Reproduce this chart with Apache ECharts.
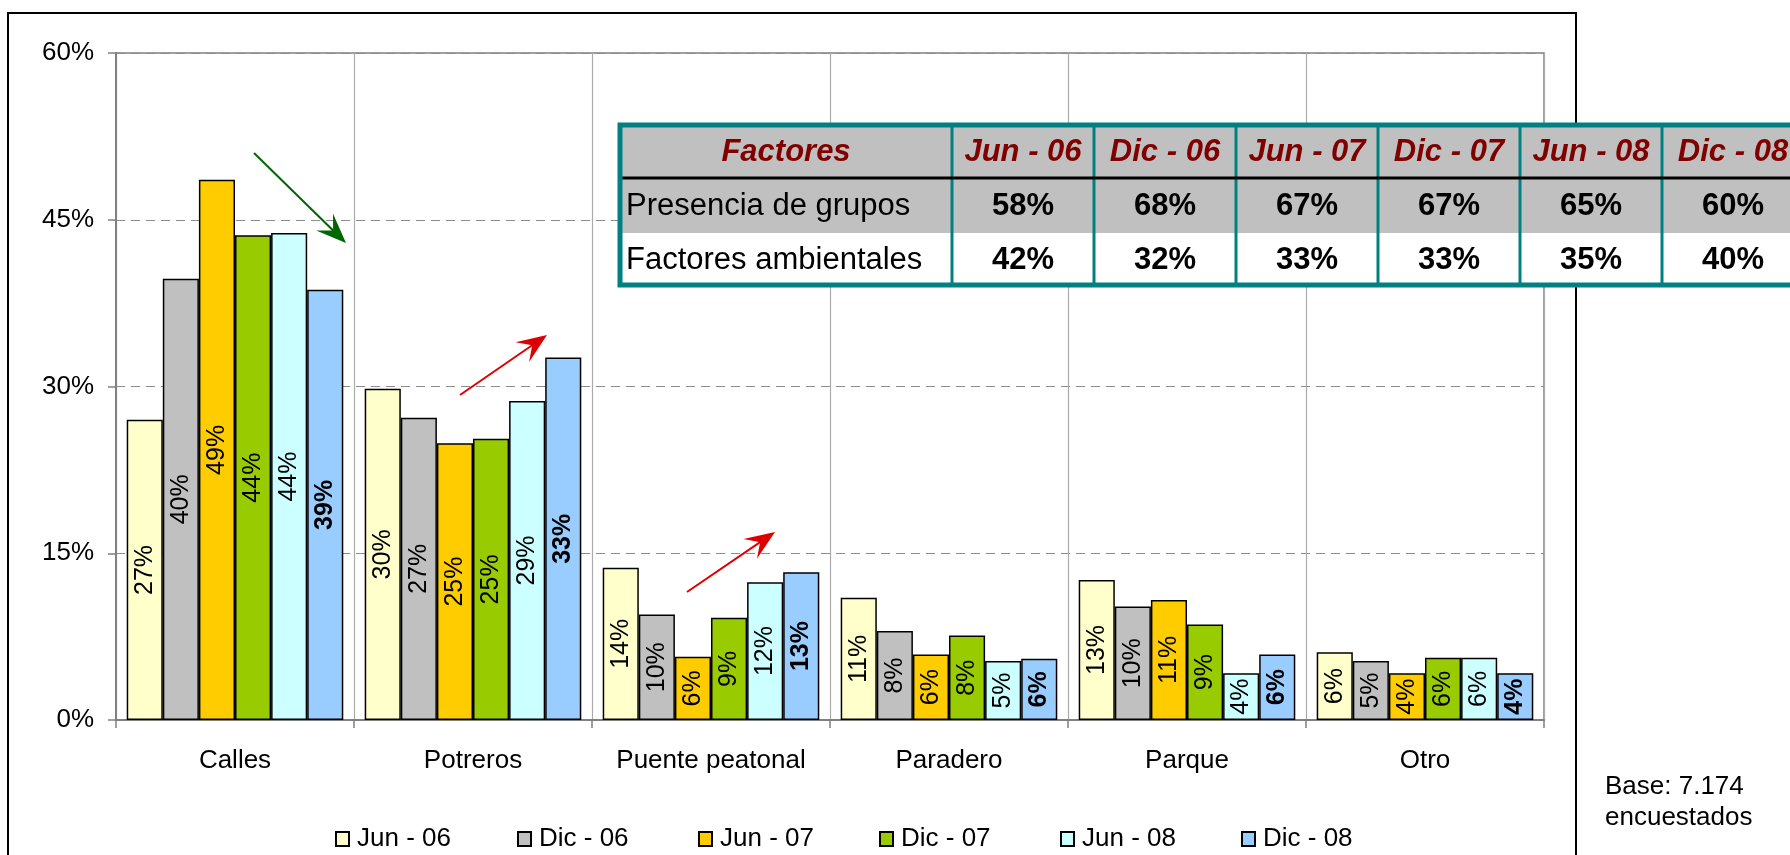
<!DOCTYPE html>
<html>
<head>
<meta charset="utf-8">
<script src="https://cdn.jsdelivr.net/npm/echarts@6/dist/echarts.min.js"></script>
<style>
  html, body { margin: 0; padding: 0; background: #ffffff; }
  #chart { width: 1790px; height: 855px; }
</style>
</head>
<body>
<div id="chart"></div>
<script>
// ---- data ----
const categories = ['Calles', 'Potreros', 'Puente peatonal', 'Paradero', 'Parque', 'Otro'];
const periods = ['Jun - 06', 'Dic - 06', 'Jun - 07', 'Dic - 07', 'Jun - 08', 'Dic - 08'];

const jun06 = [27.0, 29.8, 13.7, 11.0, 12.6, 6.1];
const dic06 = [39.7, 27.2, 9.5, 8.0, 10.2, 5.3];
const jun07 = [48.6, 24.9, 5.7, 5.9, 10.8, 4.2];
const dic07 = [43.6, 25.3, 9.2, 7.6, 8.6, 5.6];
const jun08 = [43.8, 28.7, 12.4, 5.3, 4.2, 5.6];
const dic08 = [38.7, 32.6, 13.3, 5.5, 5.9, 4.2];

const yTicks = { min: 0, max: 60, interval: 15 };

const tableHeader = 'Factores';
const tableRowNames = ['Presencia de grupos', 'Factores ambientales'];
const presenciaGrupos = [58, 68, 67, 67, 65, 60];
const factoresAmbientales = [42, 32, 33, 33, 35, 40];

const baseNote = ['Base: 7.174', 'encuestados'];

// ---- styling ----
const FONT = '"Liberation Sans", Arial, sans-serif';
const seriesColors = ['#FFFFCC', '#C0C0C0', '#FFCC00', '#99CC00', '#CCFFFF', '#99CCFF'];
const seriesValues = [jun06, dic06, jun07, dic07, jun08, dic08];
const legendLeft = [330, 512, 693, 874, 1055, 1236];

const chart = echarts.init(document.getElementById('chart'), null, { renderer: 'canvas' });

const series = periods.map((name, i) => ({
  name: name,
  type: 'bar',
  data: seriesValues[i],
  barGap: '0%',
  barCategoryGap: '9%',
  itemStyle: { color: seriesColors[i], borderColor: '#000000', borderWidth: 1.5 },
  label: {
    show: true,
    position: 'inside',
    rotate: 90,
    fontFamily: FONT,
    fontSize: 25,
    color: '#000000',
    fontWeight: i === periods.length - 1 ? 'bold' : 'normal',
    formatter: p => Math.round(p.value) + '%'
  },
  emphasis: { disabled: true }
}));

// stealth-style arrow annotation
function arrow(x1, y1, x2, y2, color) {
  const dx = x2 - x1, dy = y2 - y1;
  const len = Math.sqrt(dx * dx + dy * dy);
  const ux = dx / len, uy = dy / len;
  const nx = -uy, ny = ux;
  const L = 30, W = 12;
  const back = [x2 - L * ux, y2 - L * uy];
  const notch = [x2 - 0.6 * L * ux, y2 - 0.6 * L * uy];
  return [
    { type: 'line', z: 50, shape: { x1: x1, y1: y1, x2: notch[0], y2: notch[1] },
      style: { stroke: color, lineWidth: 2 } },
    { type: 'polygon', z: 50, shape: { points: [
        [x2, y2],
        [back[0] + W * nx, back[1] + W * ny],
        notch,
        [back[0] - W * nx, back[1] - W * ny]
      ] }, style: { fill: color } }
  ];
}

// summary table drawn on top of the plot
function buildTable() {
  const els = [];
  const x0 = 620, firstW = 332, colW = 142;
  const yTop = 125, hHead = 53, hRow = 55;
  const totalW = firstW + colW * periods.length;
  const yRow1 = yTop + hHead, yRow2 = yRow1 + hRow, yBot = yRow2 + 52;
  const Z = 60;
  els.push({ type: 'rect', z: Z, shape: { x: x0, y: yTop, width: totalW, height: hHead + hRow }, style: { fill: '#C0C0C0' } });
  els.push({ type: 'rect', z: Z, shape: { x: x0, y: yRow2, width: totalW, height: yBot - yRow2 }, style: { fill: '#FFFFFF' } });
  // column dividers
  for (let i = 0; i < periods.length; i++) {
    const x = x0 + firstW + colW * i;
    els.push({ type: 'line', z: Z + 1, shape: { x1: x, y1: yTop, x2: x, y2: yBot }, style: { stroke: '#008080', lineWidth: 3 } });
  }
  // header underline
  els.push({ type: 'line', z: Z + 2, shape: { x1: x0, y1: yRow1, x2: x0 + totalW, y2: yRow1 }, style: { stroke: '#000000', lineWidth: 3 } });
  // outer frame
  els.push({ type: 'rect', z: Z + 3, shape: { x: x0, y: yTop, width: totalW, height: yBot - yTop }, style: { fill: null, stroke: '#008080', lineWidth: 5 } });

  const headStyle = { fontFamily: FONT, fontSize: 31, fontWeight: 'bold', fontStyle: 'italic', fill: '#800000', align: 'center', verticalAlign: 'middle' };
  const cellStyle = { fontFamily: FONT, fontSize: 31, fontWeight: 'bold', fill: '#000000', align: 'center', verticalAlign: 'middle' };
  const nameStyle = { fontFamily: FONT, fontSize: 31, fill: '#000000', align: 'left', verticalAlign: 'middle' };
  const cy0 = yTop + hHead / 2 + 1, cy1 = yRow1 + hRow / 2 + 1, cy2 = yRow2 + (yBot - yRow2) / 2 + 1;

  els.push({ type: 'text', z: Z + 4, x: x0 + firstW / 2, y: cy0, style: Object.assign({ text: tableHeader }, headStyle) });
  els.push({ type: 'text', z: Z + 4, x: x0 + 6, y: cy1, style: Object.assign({ text: tableRowNames[0] }, nameStyle) });
  els.push({ type: 'text', z: Z + 4, x: x0 + 6, y: cy2, style: Object.assign({ text: tableRowNames[1] }, nameStyle) });
  periods.forEach((p, i) => {
    const cx = x0 + firstW + colW * i + colW / 2;
    els.push({ type: 'text', z: Z + 4, x: cx, y: cy0, style: Object.assign({ text: p }, headStyle) });
    els.push({ type: 'text', z: Z + 4, x: cx, y: cy1, style: Object.assign({ text: presenciaGrupos[i] + '%' }, cellStyle) });
    els.push({ type: 'text', z: Z + 4, x: cx, y: cy2, style: Object.assign({ text: factoresAmbientales[i] + '%' }, cellStyle) });
  });
  return els;
}

const graphics = [].concat(
  // outer chart frame
  [{ type: 'rect', z: 40, shape: { x: 8, y: 13, width: 1568, height: 900 }, style: { fill: null, stroke: '#000000', lineWidth: 2 } }],
  arrow(254, 153, 346, 243, '#006600'),
  arrow(460, 395, 547, 335, '#DD0000'),
  arrow(687, 592, 775, 532, '#DD0000'),
  buildTable(),
  [{ type: 'text', z: 50, left: 1605, top: 771, style: {
      text: baseNote.join('\n'), fontFamily: FONT, fontSize: 26, lineHeight: 31, fill: '#000000', align: 'left', verticalAlign: 'top'
    } }]
);

const option = {
  backgroundColor: '#ffffff',
  animation: false,
  textStyle: { fontFamily: FONT },
  grid: { left: 116, right: 246, top: 53, bottom: 135, show: true, borderColor: '#808080', borderWidth: 1.5, backgroundColor: 'transparent' },
  legend: periods.map((p, i) => ({
    data: [p],
    left: legendLeft[i],
    top: 821,
    icon: 'rect',
    itemWidth: 13,
    itemHeight: 14,
    itemGap: 0,
    selectedMode: false,
    textStyle: { fontFamily: FONT, fontSize: 26, color: '#000000', padding: [0, 0, 0, 3] }
  })),
  xAxis: {
    type: 'category',
    data: categories,
    axisLine: { lineStyle: { color: '#808080', width: 2 } },
    axisTick: { show: true, interval: 0, length: 8, lineStyle: { color: '#808080', width: 1.5 } },
    axisLabel: { interval: 0, fontFamily: FONT, fontSize: 26, color: '#000000', margin: 28 },
    splitLine: { show: true, interval: 0, lineStyle: { color: '#ABABAB', width: 1.2 } }
  },
  yAxis: {
    type: 'value',
    min: yTicks.min,
    max: yTicks.max,
    interval: yTicks.interval,
    axisLine: { show: true, lineStyle: { color: '#808080', width: 2 } },
    axisTick: { show: true, length: 8, lineStyle: { color: '#808080', width: 1.5 } },
    axisLabel: { fontFamily: FONT, fontSize: 26, color: '#000000', margin: 22, formatter: '{value}%' },
    splitLine: { show: true, lineStyle: { color: '#8C8C8C', width: 1.2, type: [9, 6] } }
  },
  series: series,
  graphic: graphics
};

chart.setOption(option);
</script>
</body>
</html>
